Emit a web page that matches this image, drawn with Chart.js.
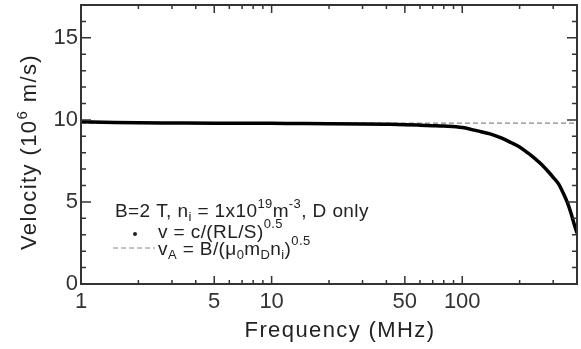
<!DOCTYPE html>
<html>
<head>
<meta charset="utf-8">
<script src="https://cdn.jsdelivr.net/npm/chart.js"></script>
<style>
  html, body { margin: 0; padding: 0; background: #fff; }
</style>
</head>
<body>
<canvas id="velChart" width="581" height="349"></canvas>
<script>
// values
var freqMHz  = [1, 1.5, 2, 3, 5, 7, 10, 15, 20, 30, 40, 50, 60, 70, 80, 100, 120, 140, 160, 180,
                200, 220, 240, 260, 280, 300, 320, 340, 355, 370, 380, 390, 395, 400];
var velocity = [9.88, 9.84, 9.82, 9.81, 9.8, 9.8, 9.79, 9.78, 9.77, 9.75, 9.73, 9.71, 9.68, 9.65, 9.62, 9.53, 9.33, 9.15, 8.9, 8.62,
                8.35, 8.0, 7.65, 7.3, 6.9, 6.5, 6.1, 5.5, 5.0, 4.4, 3.95, 3.5, 3.3, 3.1];
var alfvenFreq = [1, 400];
var alfvenVel  = [9.8, 9.8];

var xTickLabels = [1, 5, 10, 50, 100];
var xMinorTicks = [2, 3, 4, 6, 7, 8, 9, 20, 30, 40, 60, 70, 80, 90, 200, 300];
var yTickLabels = [0, 5, 10, 15];
var yMinorTicks = [1, 2, 3, 4, 6, 7, 8, 9, 11, 12, 13, 14, 16];

var FONT = '"Liberation Sans", Arial, sans-serif';

function toPoints(xs, ys) {
    var pts = [];
    for (var i = 0; i < xs.length; i++) pts.push({x: xs[i], y: ys[i]});
    return pts;
}

function runsWidth(ctx, runs) {
    var w = 0;
    runs.forEach(function (r) {
        ctx.font = r.size + 'px ' + FONT;
        w += ctx.measureText(r.t).width;
    });
    return w;
}

function drawRuns(ctx, runs, x, y) {
    runs.forEach(function (r) {
        ctx.font = r.size + 'px ' + FONT;
        ctx.fillText(r.t, x, y + (r.dy || 0));
        x += ctx.measureText(r.t).width;
    });
}

// drop the half-label padding so the plot box lands where the reference has it
function noPad(scale) {
    scale.paddingTop = 0;
    scale.paddingBottom = 0;
    scale.paddingLeft = 0;
    scale.paddingRight = 0;
}

// inward ticks on all four sides plus the frame
var frameTicks = {
    id: 'frameTicks',
    afterDatasetsDraw: function (chart) {
        var ctx = chart.ctx, a = chart.chartArea, xs = chart.scales.x, ys = chart.scales.y;
        ctx.save();
        ctx.strokeStyle = '#333';
        ctx.lineWidth = 1.5;
        ctx.beginPath();
        function xt(v, len) {
            var px = xs.getPixelForValue(v);
            ctx.moveTo(px, a.bottom); ctx.lineTo(px, a.bottom - len);
            ctx.moveTo(px, a.top); ctx.lineTo(px, a.top + len);
        }
        function yt(v, len) {
            var py = ys.getPixelForValue(v);
            ctx.moveTo(a.left, py); ctx.lineTo(a.left + len, py);
            ctx.moveTo(a.right, py); ctx.lineTo(a.right - len, py);
        }
        xTickLabels.forEach(function (v) { xt(v, 8); });
        xMinorTicks.forEach(function (v) { xt(v, 4); });
        yTickLabels.forEach(function (v) { yt(v, 10); });
        yMinorTicks.forEach(function (v) { yt(v, 5); });
        ctx.stroke();
        ctx.lineWidth = 2;
        ctx.strokeRect(a.left, a.top, a.right - a.left, a.bottom - a.top);
        ctx.restore();
    }
};

// axis titles and the in-plot legend
var labels = {
    id: 'labels',
    afterDraw: function (chart) {
        var ctx = chart.ctx;
        ctx.save();
        ctx.fillStyle = '#222';
        ctx.textAlign = 'left';
        ctx.textBaseline = 'alphabetic';
        ctx.letterSpacing = '1.4px';

        var xTitle = [{t: 'Frequency (MHz)', size: 22}];
        drawRuns(ctx, xTitle, 340 - runsWidth(ctx, xTitle) / 2, 337);

        var yTitle = [{t: 'Velocity (10', size: 22}, {t: '6', size: 15, dy: -9}, {t: ' m/s)', size: 22}];
        ctx.save();
        ctx.translate(36, 152);
        ctx.rotate(-Math.PI / 2);
        drawRuns(ctx, yTitle, -runsWidth(ctx, yTitle) / 2, 0);
        ctx.restore();

        ctx.letterSpacing = '0.4px';
        drawRuns(ctx, [
            {t: 'B=2 T, n', size: 19}, {t: 'i', size: 13, dy: 4}, {t: ' = 1x10', size: 19},
            {t: '19', size: 13, dy: -9}, {t: 'm', size: 19}, {t: '-3', size: 13, dy: -9},
            {t: ', D only', size: 19}
        ], 115, 217);

        ctx.beginPath();
        ctx.arc(135, 234, 2, 0, Math.PI * 2);
        ctx.fill();
        drawRuns(ctx, [{t: 'v = c/(RL/S)', size: 19}, {t: '0.5', size: 13, dy: -10}], 158, 238);

        ctx.strokeStyle = '#888';
        ctx.lineWidth = 1;
        ctx.setLineDash([5, 3]);
        ctx.beginPath();
        ctx.moveTo(113, 248); ctx.lineTo(155, 248);
        ctx.stroke();
        drawRuns(ctx, [
            {t: 'v', size: 19}, {t: 'A', size: 13, dy: 4}, {t: ' = B/(\u03bc', size: 19},
            {t: '0', size: 13, dy: 4}, {t: 'm', size: 19}, {t: 'D', size: 13, dy: 4},
            {t: 'n', size: 19}, {t: 'i', size: 13, dy: 4}, {t: ')', size: 19},
            {t: '0.5', size: 13, dy: -10}
        ], 158, 255);
        ctx.restore();
    }
};

var ctx = document.getElementById('velChart').getContext('2d');
var myChart = new Chart(ctx, {
    type: 'line',
    data: {
        datasets: [{
            data: toPoints(freqMHz, velocity),
            borderColor: '#000',
            borderWidth: 3.5,
            pointRadius: 0,
            cubicInterpolationMode: 'monotone',
            fill: false
        }, {
            data: toPoints(alfvenFreq, alfvenVel),
            borderColor: '#888',
            borderWidth: 1.2,
            borderDash: [5, 3],
            pointRadius: 0,
            fill: false
        }]
    },
    options: {
        responsive: false,
        animation: false,
        layout: { padding: { top: 5, right: 4, left: 0, bottom: 0 } },
        plugins: { legend: { display: false }, tooltip: { enabled: false } },
        scales: {
            x: {
                type: 'logarithmic',
                min: 1,
                max: 400,
                grid: { display: false, drawTicks: false },
                border: { display: false },
                afterBuildTicks: function (scale) {
                    scale.ticks = xTickLabels.map(function (v) { return {value: v}; });
                },
                afterFit: function (scale) { scale.height = 65; noPad(scale); },
                ticks: {
                    autoSkip: false,
                    maxRotation: 0,
                    padding: 5,
                    color: '#333',
                    font: { family: FONT, size: 22 },
                    callback: function (v) { return String(v); }
                }
            },
            y: {
                type: 'linear',
                min: 0,
                max: 17,
                grid: { display: false, drawTicks: false },
                border: { display: false },
                afterBuildTicks: function (scale) {
                    scale.ticks = yTickLabels.map(function (v) { return {value: v}; });
                },
                afterFit: function (scale) { scale.width = 81; noPad(scale); },
                ticks: {
                    padding: 3,
                    color: '#333',
                    font: { family: FONT, size: 22 }
                }
            }
        }
    },
    plugins: [frameTicks, labels]
});
</script>
</body>
</html>
